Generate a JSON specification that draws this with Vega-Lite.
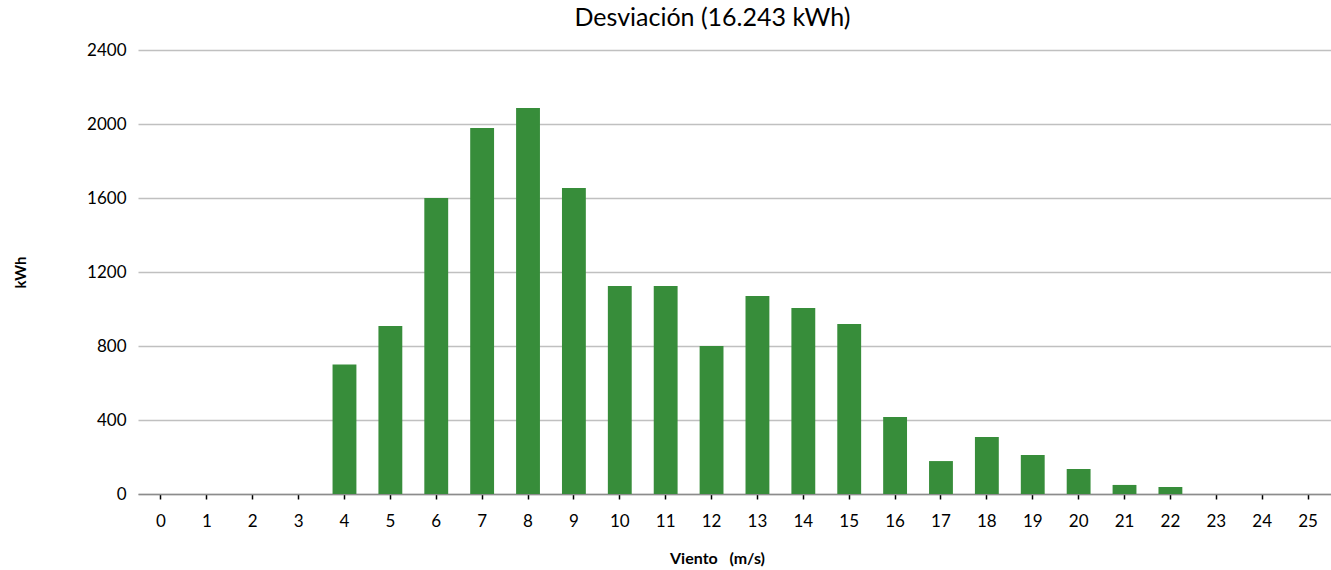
{
  "$schema": "https://vega.github.io/schema/vega-lite/v6.json",
  "width": 1193,
  "height": 444,
  "autosize": {"type": "none"},
  "padding": {"left": 138, "top": 50, "right": 0, "bottom": 76},
  "background": "white",
  "title": {"text": "Desviación (16.243 kWh)", "fontSize": 25, "font": "Lato", "fontWeight": "normal", "color": "#000000", "anchor": "middle", "dx": -22, "offset": 10},
  "data": {"values": [
    {"v": 0, "kwh": 0}, {"v": 1, "kwh": 0}, {"v": 2, "kwh": 0}, {"v": 3, "kwh": 0},
    {"v": 4, "kwh": 700}, {"v": 5, "kwh": 908}, {"v": 6, "kwh": 1600}, {"v": 7, "kwh": 1978},
    {"v": 8, "kwh": 2086}, {"v": 9, "kwh": 1654}, {"v": 10, "kwh": 1124}, {"v": 11, "kwh": 1124},
    {"v": 12, "kwh": 800}, {"v": 13, "kwh": 1070}, {"v": 14, "kwh": 1005}, {"v": 15, "kwh": 919},
    {"v": 16, "kwh": 416}, {"v": 17, "kwh": 178}, {"v": 18, "kwh": 308}, {"v": 19, "kwh": 211},
    {"v": 20, "kwh": 135}, {"v": 21, "kwh": 49}, {"v": 22, "kwh": 38}, {"v": 23, "kwh": 0},
    {"v": 24, "kwh": 0}, {"v": 25, "kwh": 0}
  ]},
  "mark": {"type": "bar", "color": "#378D3A"},
  "encoding": {
    "x": {
      "field": "v", "type": "ordinal", "sort": "ascending",
      "scale": {"paddingInner": 0.48, "paddingOuter": 0.24},
      "axis": {
        "title": "Viento\u00a0\u00a0\u00a0(m/s)", "titleFont": "Lato", "titleFontSize": 16, "titleFontWeight": "bold", "titleColor": "#000",
        "titlePadding": 21, "titleX": 579,
        "labelAngle": 0, "labelFont": "Lato", "labelFontSize": 17, "labelColor": "#000", "labelPadding": 14,
        "domainColor": "#8c8c8c", "domainWidth": 1.5,
        "tickColor": "#000", "tickSize": 5, "tickWidth": 1.5,
        "grid": false
      }
    },
    "y": {
      "field": "kwh", "type": "quantitative",
      "scale": {"domain": [0, 2400]},
      "axis": {
        "title": "kWh", "titleFont": "Lato", "titleFontSize": 15, "titleFontWeight": "bold", "titleColor": "#000",
        "titlePadding": 58,
        "values": [0, 400, 800, 1200, 1600, 2000, 2400], "format": "d",
        "labelFont": "Lato", "labelFontSize": 17, "labelColor": "#000", "labelPadding": 12,
        "domain": false, "ticks": false,
        "grid": true, "gridColor": "#c0c0c0", "gridWidth": 1.5
      }
    }
  },
  "config": {"view": {"stroke": null}}
}
